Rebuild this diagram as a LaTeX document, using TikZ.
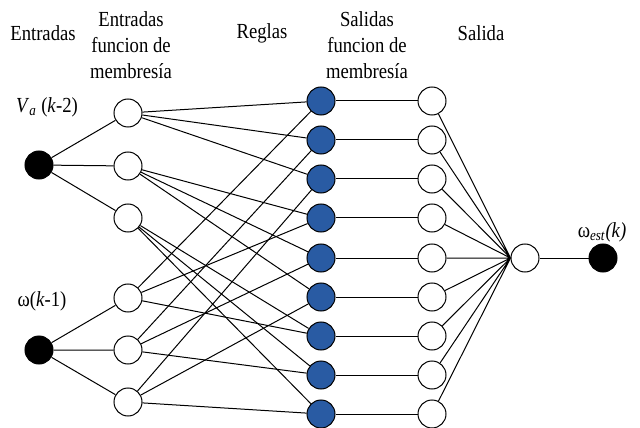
\documentclass[tikz,border=0pt]{standalone}
\usepackage{fontspec}
\setmainfont{Liberation Serif}
\usepackage{tikz}
\definecolor{ruleblue}{RGB}{41,91,163}
\newcommand{\tall}[1]{\scalebox{1}[1.15]{#1}}

\begin{document}
\begin{tikzpicture}[x=0.75pt, y=-0.75pt, line width=0.75pt]
        \tikzstyle{every node}=[font=\rmfamily\fontsize{14}{19.5}\selectfont]
        \tikzstyle{neuron}=[circle, draw, inner sep=0pt, minimum size=21pt]
        \tikzstyle{input}=[neuron, fill=black]
        \tikzstyle{rulenode}=[neuron, fill=ruleblue]
        \tikzstyle{header}=[align=center]
        \useasboundingbox (0,0) rectangle (640,428);
        % entradas
        \node [input] (in1) at (39,165) {};
        \node [input] (in2) at (39,350) {};
        % funciones de membresia de entrada
        \node [neuron] (a1) at (128,113) {};
        \node [neuron] (a2) at (128,166) {};
        \node [neuron] (a3) at (128,218) {};
        \node [neuron] (b1) at (128,298) {};
        \node [neuron] (b2) at (128,350) {};
        \node [neuron] (b3) at (128,402) {};
        % reglas
        \node [rulenode] (r1) at (321,101) {};
        \node [rulenode] (r2) at (321,140) {};
        \node [rulenode] (r3) at (321,179) {};
        \node [rulenode] (r4) at (321,218) {};
        \node [rulenode] (r5) at (321,258) {};
        \node [rulenode] (r6) at (321,297) {};
        \node [rulenode] (r7) at (321,336) {};
        \node [rulenode] (r8) at (321,375) {};
        \node [rulenode] (r9) at (321,414) {};
        % funciones de membresia de salida
        \node [neuron] (o1) at (432,101) {};
        \node [neuron] (o2) at (432,140) {};
        \node [neuron] (o3) at (432,179) {};
        \node [neuron] (o4) at (432,218) {};
        \node [neuron] (o5) at (432,258) {};
        \node [neuron] (o6) at (432,297) {};
        \node [neuron] (o7) at (432,336) {};
        \node [neuron] (o8) at (432,375) {};
        \node [neuron] (o9) at (432,414) {};
        % salida
        \node [neuron] (sum) at (525,258) {};
        \node [input] (out) at (603,258) {};
        % conexiones
        \draw (in1) -- (a1) (in1) -- (a2) (in1) -- (a3);
        \draw (in2) -- (b1) (in2) -- (b2) (in2) -- (b3);
        \draw (a1) -- (r1) (a1) -- (r2) (a1) -- (r3);
        \draw (a2) -- (r4) (a2) -- (r5) (a2) -- (r6);
        \draw (a3) -- (r7) (a3) -- (r8) (a3) -- (r9);
        \draw (b1) -- (r1) (b1) -- (r4) (b1) -- (r7);
        \draw (b2) -- (r2) (b2) -- (r5) (b2) -- (r8);
        \draw (b3) -- (r3) (b3) -- (r6) (b3) -- (r9);
        \draw (r1) -- (o1) (r2) -- (o2) (r3) -- (o3) (r4) -- (o4) (r5) -- (o5)
              (r6) -- (o6) (r7) -- (o7) (r8) -- (o8) (r9) -- (o9);
        \draw (o1) -- (sum.west) (o2) -- (sum.west) (o3) -- (sum.west) (o4) -- (sum.west) (o5) -- (sum.west)
              (o6) -- (sum.west) (o7) -- (sum.west) (o8) -- (sum.west) (o9) -- (sum.west);
        \draw (sum) -- (out);
        % etiquetas
        \node (va) at (47,107) {\tall{\textit{V}\textsubscript{\textit{a}} (\textit{k}-2)}};
        \node (wk) at (42,301) {\tall{ω(\textit{k}-1)}};
        \node (west) at (602,232) {\tall{ω\textsubscript{\textit{est}}\textit{(k)}}};
        \node [header] (h1) at (43,33) {\tall{Entradas}};
        \node [header] (h2) at (131,45) {\tall{Entradas}\\\tall{funcion de}\\\tall{membresía}};
        \node [header] (h3) at (262,33) {\tall{Reglas}};
        \node [header] (h4) at (367,45) {\tall{Salidas}\\\tall{funcion de}\\\tall{membresía}};
        \node [header] (h5) at (481,33) {\tall{Salida}};
    \end{tikzpicture}
\end{document}
